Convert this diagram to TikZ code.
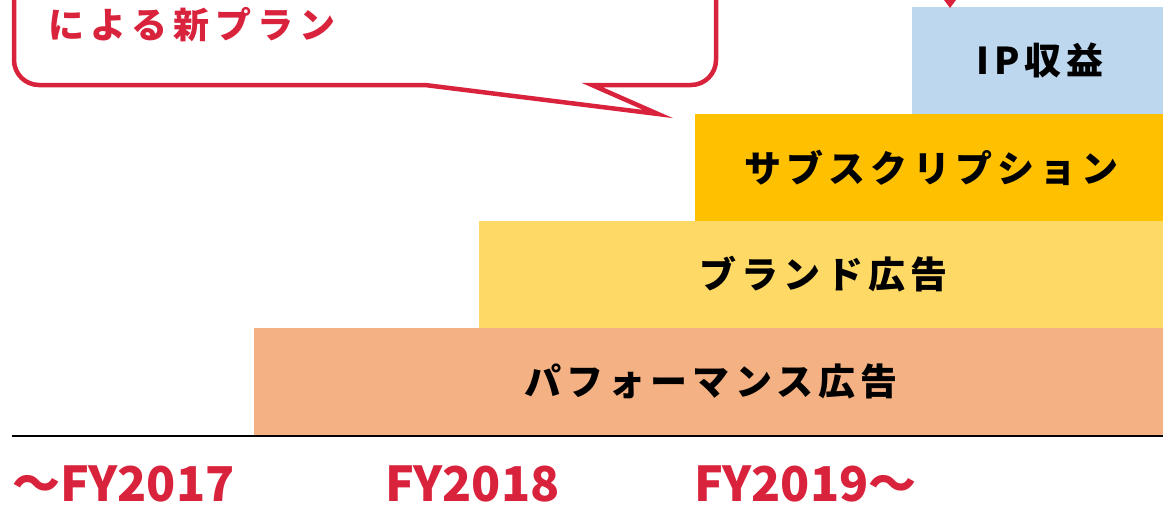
\documentclass[tikz,border=0pt]{standalone}
\usepackage{fontspec}
\newfontfamily\jp{Noto Sans CJK JP}
\newfontfamily\jpsp{Noto Sans CJK JP}[LetterSpace=14]
\newfontfamily\jpbub{Noto Sans CJK JP}[LetterSpace=17]
\definecolor{myred}{RGB}{217,34,59}
\definecolor{ipblue}{RGB}{189,215,238}
\definecolor{subgold}{RGB}{255,192,0}
\definecolor{brandyel}{RGB}{255,217,102}
\definecolor{perfpeach}{RGB}{244,177,131}
\tikzset{
  tier/.style={anchor=north west, inner sep=0pt, outer sep=0pt, draw=none,
    font=\jpsp\bfseries\fontsize{37}{40}\selectfont, text=black},
  yearlbl/.style={anchor=base west, inner sep=0pt, text=myred,
    font=\jp\bfseries\fontsize{48}{50}\selectfont},
  bubble/.style={draw=myred, line width=4.5pt, line join=miter},
}
\begin{document}
\begin{tikzpicture}[x=1pt,y=-1pt]
\useasboundingbox (0,0) rectangle (1163,504);
\begin{scope}
\clip (0,0) rectangle (1163,504);
% tiers
\node[tier, fill=ipblue, minimum width=251pt, minimum height=107pt] (ip) at (912,7) {\hspace{5pt}IP収益};
\node[tier, fill=subgold, minimum width=468pt, minimum height=107pt] (sub) at (695,114) {\hspace{5pt}サブスクリプション};
\node[tier, fill=brandyel, minimum width=684pt, minimum height=107pt] (brand) at (479,221) {\hspace{5pt}ブランド広告};
\node[tier, fill=perfpeach, minimum width=909pt, minimum height=107pt] (perf) at (254,328) {\hspace{5pt}パフォーマンス広告};
% axis
\coordinate (axl) at (12,436);
\coordinate (axr) at (1163,436);
\draw[line width=2.5pt] (axl) -- (axr);
% bubble
\draw[bubble] (14,-40) -- (14,60) .. controls (14,73.8) and (25.2,85) .. (39,85)
  -- (425,85) -- (658,114) -- (592,85) -- (691,85)
  .. controls (704.8,85) and (716,73.8) .. (716,60) -- (716,-40);
\node[anchor=base west, inner sep=0pt, text=myred, font=\jpbub\bfseries\fontsize{36}{40}\selectfont] (btxt) at (48,38) {による新プラン};
% arrow tip
\fill[myred] (944,0) -- (956,0) -- (950,8) -- cycle;
% year labels
\node[yearlbl] (y17) at (12,501) {〜FY2017};
\node[yearlbl] (y18) at (385,501) {FY2018};
\node[yearlbl] (y19) at (694,501) {FY2019〜};
\end{scope}
\end{tikzpicture}
\end{document}
